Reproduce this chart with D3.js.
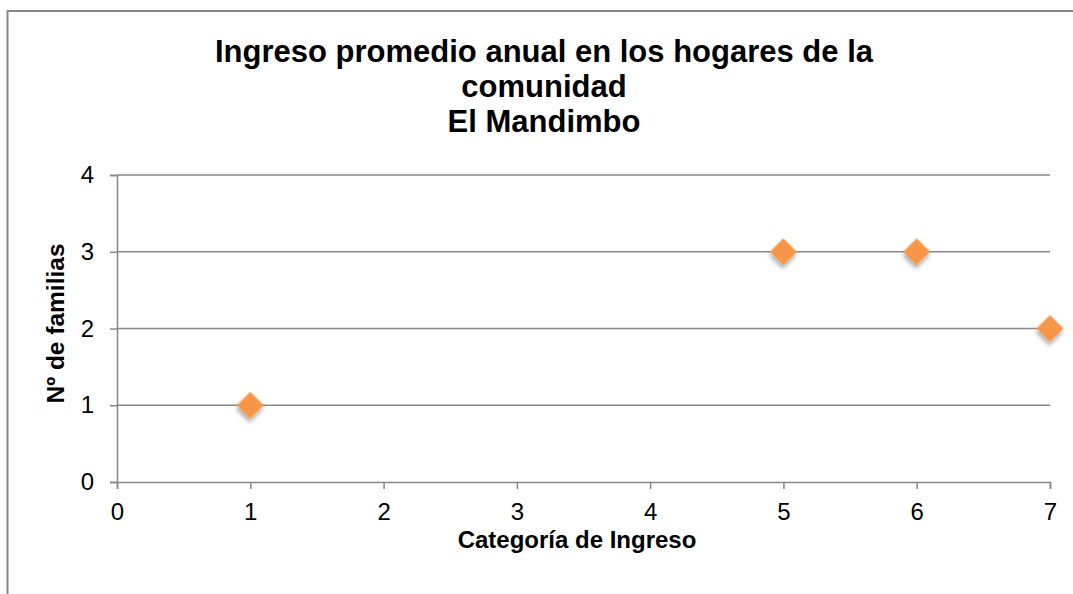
<!DOCTYPE html>
<html lang="en">
<head>
  <meta charset="UTF-8" />
  <title>Ingreso promedio anual</title>
  <style>
    html, body {
      margin: 0;
      padding: 0;
      background: #fff;
      overflow: hidden;
    }
    svg {
      display: block;
      font-family: "Liberation Sans", Arial, sans-serif;
    }
  </style>
</head>
<body>
  <script src="https://d3js.org/d3.v7.min.js"></script>
  <script>
    // data
    const categorias = [1, 5, 6, 7];
    const familias = [1, 3, 3, 2];
    const xTicks = [0, 1, 2, 3, 4, 5, 6, 7];
    const yTicks = [0, 1, 2, 3, 4];
    const titleLines = ["Ingreso promedio anual en los hogares de la", "comunidad", "El Mandimbo"];
    const xTitle = "Categoría de Ingreso";
    const yTitle = "Nº de familias";

    const width = 1073, height = 594;
    const plot = { left: 117, right: 1050, top: 175, bottom: 482 };
    const gray = "#878787";
    const orange = "#F79646";

    const svg = d3.select("body").append("svg")
      .attr("width", width)
      .attr("height", height);

    const defs = svg.append("defs");
    const shadow = defs.append("filter").attr("id", "shadow")
      .attr("x", "-50%").attr("y", "-50%").attr("width", "200%").attr("height", "200%");
    shadow.append("feDropShadow")
      .attr("dx", 2).attr("dy", 3).attr("stdDeviation", 2)
      .attr("flood-color", "#000").attr("flood-opacity", 0.35);

    // chart frame, runs past the window on the right and bottom
    svg.append("rect")
      .attr("x", 7.5).attr("y", 11)
      .attr("width", 1100).attr("height", 620)
      .attr("fill", "#fff")
      .attr("stroke", gray).attr("stroke-width", 2);

    const x = d3.scaleLinear().domain([0, 7]).range([plot.left, plot.right]);
    const y = d3.scaleLinear().domain([0, 4]).range([plot.bottom, plot.top]);

    // gridlines
    svg.append("g")
      .selectAll("line")
      .data(yTicks.filter(d => d > 0))
      .join("line")
      .attr("x1", plot.left).attr("x2", plot.right)
      .attr("y1", d => y(d)).attr("y2", d => y(d))
      .attr("stroke", gray).attr("stroke-width", 1.5);

    // axes
    const xAxis = svg.append("g")
      .attr("transform", `translate(0,${plot.bottom})`)
      .call(d3.axisBottom(x).tickValues(xTicks).tickSize(7).tickPadding(14).tickFormat(d3.format("d")));
    const yAxis = svg.append("g")
      .attr("transform", `translate(${plot.left},0)`)
      .call(d3.axisLeft(y).tickValues(yTicks).tickSize(7).tickPadding(16).tickFormat(d3.format("d")));

    [xAxis, yAxis].forEach(g => {
      g.select(".domain").attr("stroke", gray).attr("stroke-width", 1.5);
      g.selectAll(".tick line").attr("stroke", gray).attr("stroke-width", 1.5);
      g.selectAll(".tick text")
        .attr("fill", "#000")
        .style("font-size", "24px")
        .style("font-family", "\"Liberation Sans\", Arial, sans-serif");
    });
    xAxis.selectAll(".tick text").attr("dy", "0.71em");

    // markers
    svg.append("g")
      .selectAll("path")
      .data(categorias.map((c, i) => [c, familias[i]]))
      .join("path")
      .attr("d", d3.symbol(d3.symbolSquare, 360))
      .attr("transform", d => `translate(${x(d[0])},${y(d[1])}) rotate(45)`)
      .attr("fill", orange)
      .attr("filter", "url(#shadow)");

    // title
    svg.append("text")
      .attr("text-anchor", "middle")
      .attr("font-weight", "bold")
      .attr("font-size", 31)
      .selectAll("tspan")
      .data(titleLines)
      .join("tspan")
      .attr("x", 544)
      .attr("y", (d, i) => 62 + i * 35)
      .text(d => d);

    // axis titles
    svg.append("text")
      .attr("x", 577).attr("y", 548)
      .attr("text-anchor", "middle")
      .attr("font-weight", "bold")
      .attr("font-size", 24)
      .text(xTitle);

    svg.append("text")
      .attr("transform", `translate(64,${(plot.top + plot.bottom) / 2 - 5}) rotate(-90)`)
      .attr("text-anchor", "middle")
      .attr("font-weight", "bold")
      .attr("font-size", 24.5)
      .text(yTitle);
  </script>
</body>
</html>
